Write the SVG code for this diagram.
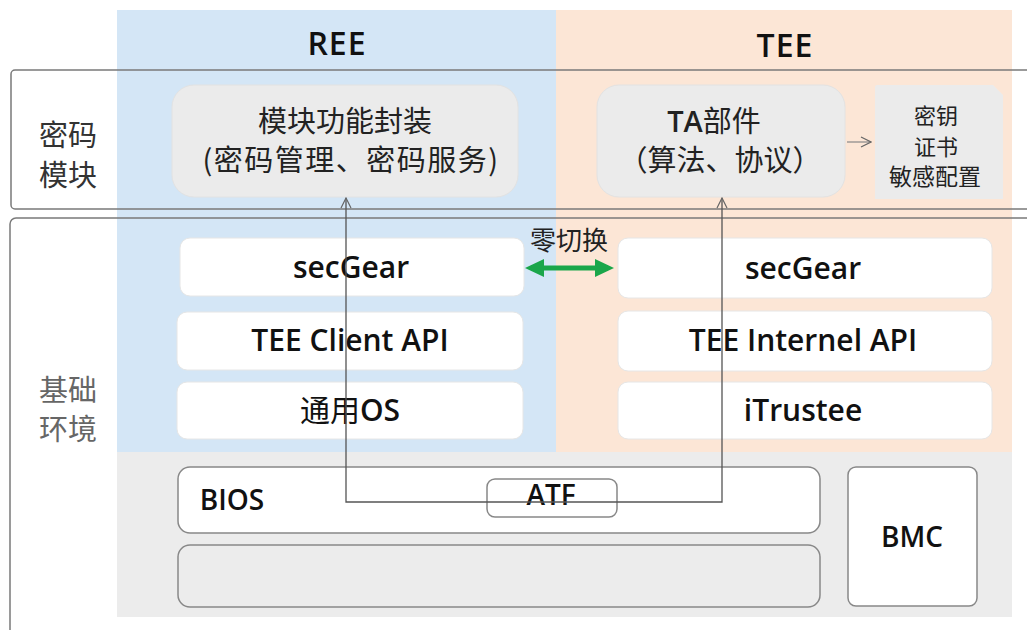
<svg xmlns="http://www.w3.org/2000/svg" width="1027" height="630" viewBox="0 0 1027 630">
<defs>
<style>
.t{font-family:"Open Sans","Noto Sans CJK SC",sans-serif;fill:#111;text-anchor:middle}
.c{font-family:"Noto Sans CJK SC",sans-serif;fill:#222;text-anchor:middle}
.b{font-weight:600}
.layer{fill:#fff;stroke:#e6e6e6;stroke-width:1}
.frame{fill:none;stroke:#7a7a7a;stroke-width:1.5}
.hw{fill:#fff;stroke:#888;stroke-width:1.5}
</style>
<marker id="open" viewBox="0 0 12 12" refX="11" refY="6" markerWidth="12" markerHeight="12" markerUnits="userSpaceOnUse" orient="auto-start-reverse">
<path d="M1,1 L11,6 L1,11" fill="none" stroke="#666" stroke-width="1.2"/>
</marker>
</defs>
<rect width="1027" height="630" fill="#fff"/>
<g id="backgrounds">
<rect x="117" y="10" width="439" height="443" fill="#d4e6f6"/>
<rect x="556" y="10" width="456" height="443" fill="#fce6d6"/>
<rect x="117" y="452" width="895" height="165" fill="#ececec"/>
</g>
<g id="frames">
<rect class="frame" x="11" y="70" width="1030" height="139" rx="4"/>
<rect class="frame" x="10" y="218" width="1030" height="430" rx="6"/>
</g>
<g id="headers">
<text class="t b" x="337" y="55" font-size="32" letter-spacing="1">REE</text>
<text class="t b" x="785" y="57" font-size="32" letter-spacing="1">TEE</text>
<text class="c" x="68" y="146" font-size="29" style="fill:#333">密码</text>
<text class="c" x="68" y="186" font-size="29" style="fill:#333">模块</text>
<text class="c" x="68" y="401" font-size="29" style="fill:#666">基础</text>
<text class="c" x="68" y="440" font-size="29" style="fill:#666">环境</text>
</g>
<g id="module-func">
<rect x="172" y="85" width="346" height="112" rx="22" fill="#ebebeb" stroke="#e2e2e2"/>
<text class="c" x="345" y="132" font-size="29">模块功能封装</text>
<text class="c" x="351" y="171" font-size="29" letter-spacing="1.5">(密码管理、密码服务)</text>
</g>
<g id="ta">
<rect x="597" y="85" width="248" height="112" rx="22" fill="#ebebeb" stroke="#e2e2e2"/>
<text class="c" x="714" y="132" font-size="29"><tspan font-family="Open Sans" font-weight="600">TA</tspan>部件</text>
<text class="c" x="720" y="171" font-size="29">（算法、协议）</text>
</g>
<g id="keys">
<path d="M875,87 Q875,85 877,85 L993,85 L1003,95 L1003,199 L875,199 Z" fill="#ebebeb"/>
<text class="c" x="936" y="124" font-size="22">密钥</text>
<text class="c" x="936" y="155" font-size="22">证书</text>
<text class="c" x="935" y="185" font-size="23">敏感配置</text>
</g>
<g id="ree-secgear">
<rect class="layer" x="180" y="238" width="344" height="58" rx="10"/>
<text class="t b" x="351" y="278" font-size="30">secGear</text>
</g>
<g id="tee-client-api">
<rect class="layer" x="177" y="312" width="346" height="58" rx="10"/>
<text class="t b" x="350" y="351" font-size="30">TEE Client API</text>
</g>
<g id="general-os">
<rect class="layer" x="177" y="382" width="346" height="57" rx="10"/>
<text class="t" x="350" y="421" font-size="30"><tspan font-family="Noto Sans CJK SC">通用</tspan><tspan font-weight="600">OS</tspan></text>
</g>
<g id="tee-secgear">
<rect class="layer" x="618" y="238" width="374" height="60" rx="10"/>
<text class="t b" x="803" y="279" font-size="30">secGear</text>
</g>
<g id="tee-internel-api">
<rect class="layer" x="618" y="311" width="374" height="60" rx="10"/>
<text class="t b" x="803" y="351" font-size="30">TEE Internel API</text>
</g>
<g id="itrustee">
<rect class="layer" x="618" y="382" width="374" height="57" rx="10"/>
<text class="t b" x="803" y="421" font-size="30">iTrustee</text>
</g>
<g id="bios">
<rect class="hw" x="178" y="467" width="642" height="66" rx="12"/>
<text class="t b" x="232" y="510" font-size="28">BIOS</text>
</g>
<g id="atf">
<rect x="487" y="479" width="130" height="38" rx="8" fill="none" stroke="#888" stroke-width="1.5"/>
<text class="t b" x="551" y="505" font-size="28">ATF</text>
</g>
<g id="lower-box">
<rect x="178" y="545" width="642" height="62" rx="12" fill="#ececec" stroke="#888" stroke-width="1.5"/>
</g>
<g id="bmc">
<rect class="hw" x="848" y="467" width="129" height="139" rx="8"/>
<text class="t b" x="912" y="547" font-size="28">BMC</text>
</g>
<g id="connectors">
<polyline points="346,198 346,502 722,502 722,198" fill="none" stroke="#555" stroke-width="1.3" marker-start="url(#open)" marker-end="url(#open)"/>
<line x1="847" y1="142" x2="871" y2="142" stroke="#888" stroke-width="1.2" marker-end="url(#open)"/>
<path d="M525,268 L544,259 L544,265.5 L595,265.5 L595,259 L614,268 L595,277 L595,270.5 L544,270.5 L544,277 Z" fill="#1aa64a"/>
<text class="c" x="569" y="250" font-size="26">零切换</text>
</g>
</svg>
